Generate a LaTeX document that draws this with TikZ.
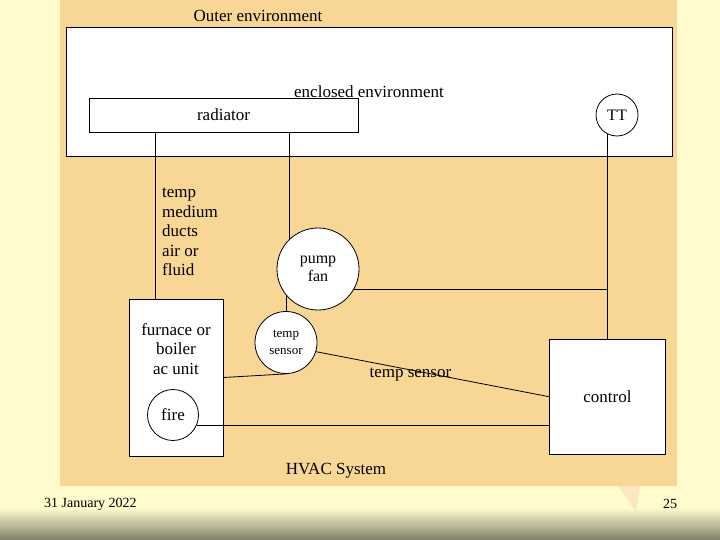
\documentclass[tikz,border=0pt]{standalone}
\usepackage{fontspec}
\setmainfont{Liberation Serif}
\usetikzlibrary{positioning, calc}
\definecolor{pcream}{RGB}{255,251,204}
\definecolor{ptan}  {RGB}{248,214,150}
\definecolor{polive}{RGB}{128,128,106}
\tikzset{
  % White box
  BX/.style={rectangle,draw=black,fill=white,line width=0.8pt,
             inner sep=0pt,align=center},
  % White circle
  CR/.style={circle,draw=black,fill=white,line width=0.8pt,
             inner sep=0pt,align=center},
  % Plain label
  LB/.style={inner sep=0pt,align=center},
  % Connector
  Ln/.style={line width=0.8pt,color=black},
}
\newcommand{\fsz}[2]{\fontsize{#1}{#2}\selectfont}
\begin{document}
\begin{tikzpicture}[x=1pt,y=-1pt]
      \useasboundingbox (0,0) rectangle (720,540);
      % Slide background
      \fill[pcream] (0,0) rectangle (720,540);
      \shade[top color=pcream,bottom color=polive] (0,508) rectangle (720,540);
      \fill[ptan!60] (618,486) -- (640,486) -- (636,512) -- cycle;
      \fill[ptan] (60,0) rectangle (677,486);
      % Outer and enclosed environment
      \node[LB,font=\fsz{17}{20}] at (258,16) (outer) {Outer environment};
      \node[BX,minimum width=606,minimum height=129] at (369,91.5) (encl) {};
      % Radiator
      \node[BX,minimum width=269,minimum height=34,font=\fsz{17}{20}]
            at (223.5,115) (rad) {radiator};
      \node[LB,font=\fsz{17}{20}] at (369,92) (encllbl) {enclosed environment};
      % Thermostat
      \node[CR,minimum size=42,font=\fsz{16}{18}] at (617,115) (tt) {TT};
      % Pump / fan
      \node[CR,minimum size=82,font=\fsz{16}{18}] at (318,269) (pump)
            {\raisebox{-3pt}{\begin{tabular}{@{}c@{}}pump\\fan\end{tabular}}};
      % Sensor at the return
      \node[CR,minimum size=62,font=\fsz{13}{16.5}] at (286,342.5) (sens) {temp\\sensor};
      % Furnace with fire
      \node[BX,minimum width=94,minimum height=157] at (176,377.5) (furn) {};
      \node[LB,font=\fsz{17}{19.5}] at (176,349) (furnlbl) {furnace or\\boiler\\ac unit};
      \node[CR,minimum size=51,font=\fsz{17}{20}] at (173,415) (fire) {fire};
      % Control unit
      \node[BX,minimum width=116,minimum height=115,font=\fsz{17}{20}]
            at (607.5,396.7) (ctrl) {control};
      % Medium label
      \node[LB,align=left,anchor=west,font=\fsz{17}{19.6}] at (162,232) (medium)
            {temp\\medium\\ducts\\air or\\fluid};
      % Connectors
      \draw[Ln] (rad.south -| 155,0) -- (furn.north -| 155,0);
      \draw[Ln] (rad.south -| pump.133) -- (pump.133);
      \draw[Ln] (sens.north) -- (sens.north |- pump.221);
      \draw[Ln] (furn.east) -- (sens.south);
      \draw[Ln] (sens.-17) -- (ctrl.west)
            node[pos=0.405,below=-2pt,LB,font=\fsz{17}{20}] (senslbl) {temp sensor};
      \draw[Ln] (fire.-23) -- (fire.-23 -| ctrl.west);
      \draw[Ln] (pump.-29) -- (pump.-29 -| ctrl.north);
      \draw[Ln] (ctrl.north) -- (ctrl.north |- tt.-118);
      % Caption and footer
      \node[LB,font=\fsz{17}{20}] at (336,471) (cap) {HVAC System};
      \node[LB,anchor=west,font=\fsz{14}{16}] at (44,504) (date) {31 January 2022};
      \node[LB,font=\fsz{14}{16}] at (670,504) (pg) {25};
    \end{tikzpicture}
\end{document}
